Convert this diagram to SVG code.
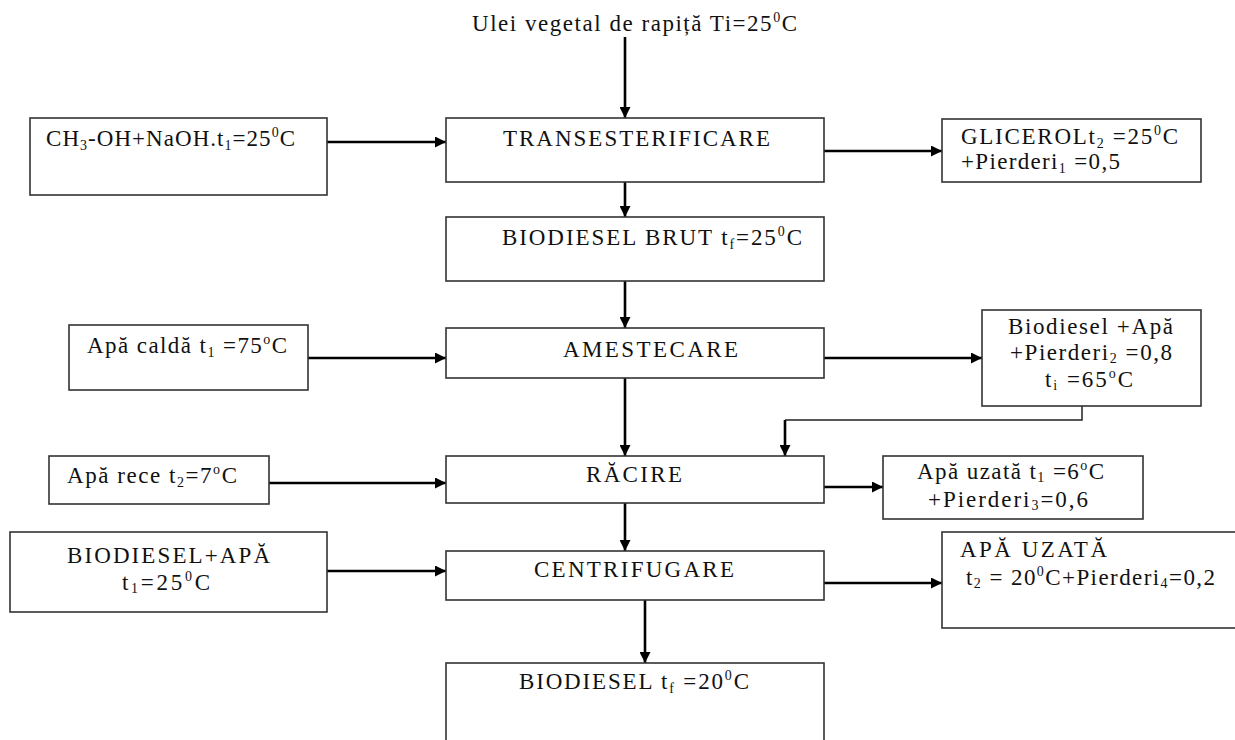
<svg xmlns="http://www.w3.org/2000/svg" width="1235" height="740" viewBox="0 0 1235 740">
<defs>
<style>
.box{fill:#fff;stroke:#333;stroke-width:1.6}
.t{font-family:"Liberation Serif","Times New Roman",serif;font-size:23px;fill:#111}
.s{font-size:14px}
.c{fill:none;stroke:#000;stroke-width:2.6}
.f{fill:none;stroke:#222;stroke-width:1.5}
</style>
<marker id="ah" viewBox="0 0 10 10" refX="10" refY="5" markerWidth="12" markerHeight="11" markerUnits="userSpaceOnUse" orient="auto">
<path d="M0,0 L10,5 L0,10 z" fill="#000"/>
</marker>
</defs>
<rect width="1235" height="740" fill="#fff"/>

<g id="connectors">
<line class="c" x1="625" y1="37" x2="625" y2="118" marker-end="url(#ah)"/>
<line class="c" x1="327" y1="142" x2="446" y2="142" marker-end="url(#ah)"/>
<line class="c" x1="824" y1="151" x2="942" y2="151" marker-end="url(#ah)"/>
<line class="c" x1="625" y1="182" x2="625" y2="217" marker-end="url(#ah)"/>
<line class="c" x1="625" y1="281" x2="625" y2="328" marker-end="url(#ah)"/>
<line class="c" x1="308" y1="358" x2="446" y2="358" marker-end="url(#ah)"/>
<line class="c" x1="824" y1="358" x2="982" y2="358" marker-end="url(#ah)"/>
<line class="c" x1="625" y1="378" x2="625" y2="456" marker-end="url(#ah)"/>
<polyline class="f" points="1082,406 1082,420 785,420"/>
<line class="c" x1="785" y1="420" x2="785" y2="456" marker-end="url(#ah)"/>
<line class="c" x1="269" y1="483" x2="446" y2="483" marker-end="url(#ah)"/>
<line class="c" x1="824" y1="487" x2="883" y2="487" marker-end="url(#ah)"/>
<line class="c" x1="625" y1="503" x2="625" y2="551" marker-end="url(#ah)"/>
<line class="c" x1="327" y1="571" x2="446" y2="571" marker-end="url(#ah)"/>
<line class="c" x1="824" y1="583" x2="942" y2="583" marker-end="url(#ah)"/>
<line class="c" x1="645" y1="600" x2="645" y2="663" marker-end="url(#ah)"/>
</g>

<g id="ulei">
<text class="t" x="472" y="31" textLength="325">Ulei vegetal de rapiță Ti=25<tspan class="s" dy="-9">0</tspan><tspan dy="9">C</tspan></text>
</g>

<g id="metanol">
<rect class="box" x="30" y="118" width="297" height="77"/>
<text class="t" x="46" y="146" textLength="249">CH<tspan class="s" dy="4">3</tspan><tspan dy="-4">-OH+NaOH.t</tspan><tspan class="s" dy="4">1</tspan><tspan dy="-4">=25</tspan><tspan class="s" dy="-9">0</tspan><tspan dy="9">C</tspan></text>
</g>

<g id="transesterificare">
<rect class="box" x="446" y="118" width="378" height="64"/>
<text class="t" x="503" y="146" textLength="267">TRANSESTERIFICARE</text>
</g>

<g id="glicerol">
<rect class="box" x="942" y="119" width="259" height="63"/>
<text class="t" x="961" y="144" textLength="217">GLICEROLt<tspan class="s" dy="4">2</tspan><tspan dy="-4"> =25</tspan><tspan class="s" dy="-9">0</tspan><tspan dy="9">C</tspan></text>
<text class="t" x="961" y="169" textLength="159">+Pierderi<tspan class="s" dy="4">1</tspan><tspan dy="-4"> =0,5</tspan></text>
</g>

<g id="biodiesel-brut">
<rect class="box" x="446" y="217" width="378" height="64"/>
<text class="t" x="502" y="245" textLength="300">BIODIESEL BRUT t<tspan class="s" dy="4">f</tspan><tspan dy="-4">=25</tspan><tspan class="s" dy="-9">0</tspan><tspan dy="9">C</tspan></text>
</g>

<g id="apa-calda">
<rect class="box" x="69" y="325" width="239" height="65"/>
<text class="t" x="87" y="353" textLength="200">Apă caldă t<tspan class="s" dy="4">1</tspan><tspan dy="-4"> =75</tspan><tspan class="s" dy="-9">o</tspan><tspan dy="9">C</tspan></text>
</g>

<g id="amestecare">
<rect class="box" x="446" y="328" width="378" height="50"/>
<text class="t" x="563" y="357" textLength="175">AMESTECARE</text>
</g>

<g id="biodiesel-apa-pierderi">
<rect class="box" x="982" y="310" width="219" height="96"/>
<text class="t" x="1008" y="334" textLength="165">Biodiesel +Apă</text>
<text class="t" x="1010" y="360" textLength="162">+Pierderi<tspan class="s" dy="3">2</tspan><tspan dy="-3"> =0,8</tspan></text>
<text class="t" x="1045" y="387" textLength="88">t<tspan class="s" dy="3">i</tspan><tspan dy="-3"> =65</tspan><tspan class="s" dy="-9">o</tspan><tspan dy="9">C</tspan></text>
</g>

<g id="apa-rece">
<rect class="box" x="49" y="456" width="220" height="48"/>
<text class="t" x="67" y="483" textLength="170">Apă rece t<tspan class="s" dy="4">2</tspan><tspan dy="-4">=7</tspan><tspan class="s" dy="-9">o</tspan><tspan dy="9">C</tspan></text>
</g>

<g id="racire">
<rect class="box" x="446" y="456" width="378" height="47"/>
<text class="t" x="586" y="482" textLength="96">RĂCIRE</text>
</g>

<g id="apa-uzata-1">
<rect class="box" x="883" y="456" width="260" height="63"/>
<text class="t" x="917" y="479" textLength="187">Apă uzată t<tspan class="s" dy="3">1</tspan><tspan dy="-3"> =6</tspan><tspan class="s" dy="-9">o</tspan><tspan dy="9">C</tspan></text>
<text class="t" x="928" y="507" textLength="160">+Pierderi<tspan class="s" dy="3">3</tspan><tspan dy="-3">=0,6</tspan></text>
</g>

<g id="biodiesel-apa">
<rect class="box" x="10" y="532" width="317" height="80"/>
<text class="t" x="67" y="563" textLength="203">BIODIESEL+APĂ</text>
<text class="t" x="122" y="590" textLength="88">t<tspan class="s" dy="3">1</tspan><tspan dy="-3">=25</tspan><tspan class="s" dy="-9">0</tspan><tspan dy="9">C</tspan></text>
</g>

<g id="centrifugare">
<rect class="box" x="446" y="551" width="378" height="49"/>
<text class="t" x="534" y="577" textLength="200">CENTRIFUGARE</text>
</g>

<g id="apa-uzata-2">
<rect class="box" x="942" y="532" width="310" height="96"/>
<text class="t" x="960" y="557" textLength="147">APĂ UZATĂ</text>
<text class="t" x="966" y="585" textLength="249">t<tspan class="s" dy="3">2</tspan><tspan dy="-3"> = 20</tspan><tspan class="s" dy="-9">0</tspan><tspan dy="9">C+Pierderi</tspan><tspan class="s" dy="3">4</tspan><tspan dy="-3">=0,2</tspan></text>
</g>

<g id="biodiesel-final">
<rect class="box" x="446" y="663" width="378" height="100"/>
<text class="t" x="519" y="689" textLength="230">BIODIESEL t<tspan class="s" dy="4">f</tspan><tspan dy="-4"> =20</tspan><tspan class="s" dy="-9">0</tspan><tspan dy="9">C</tspan></text>
</g>
</svg>
